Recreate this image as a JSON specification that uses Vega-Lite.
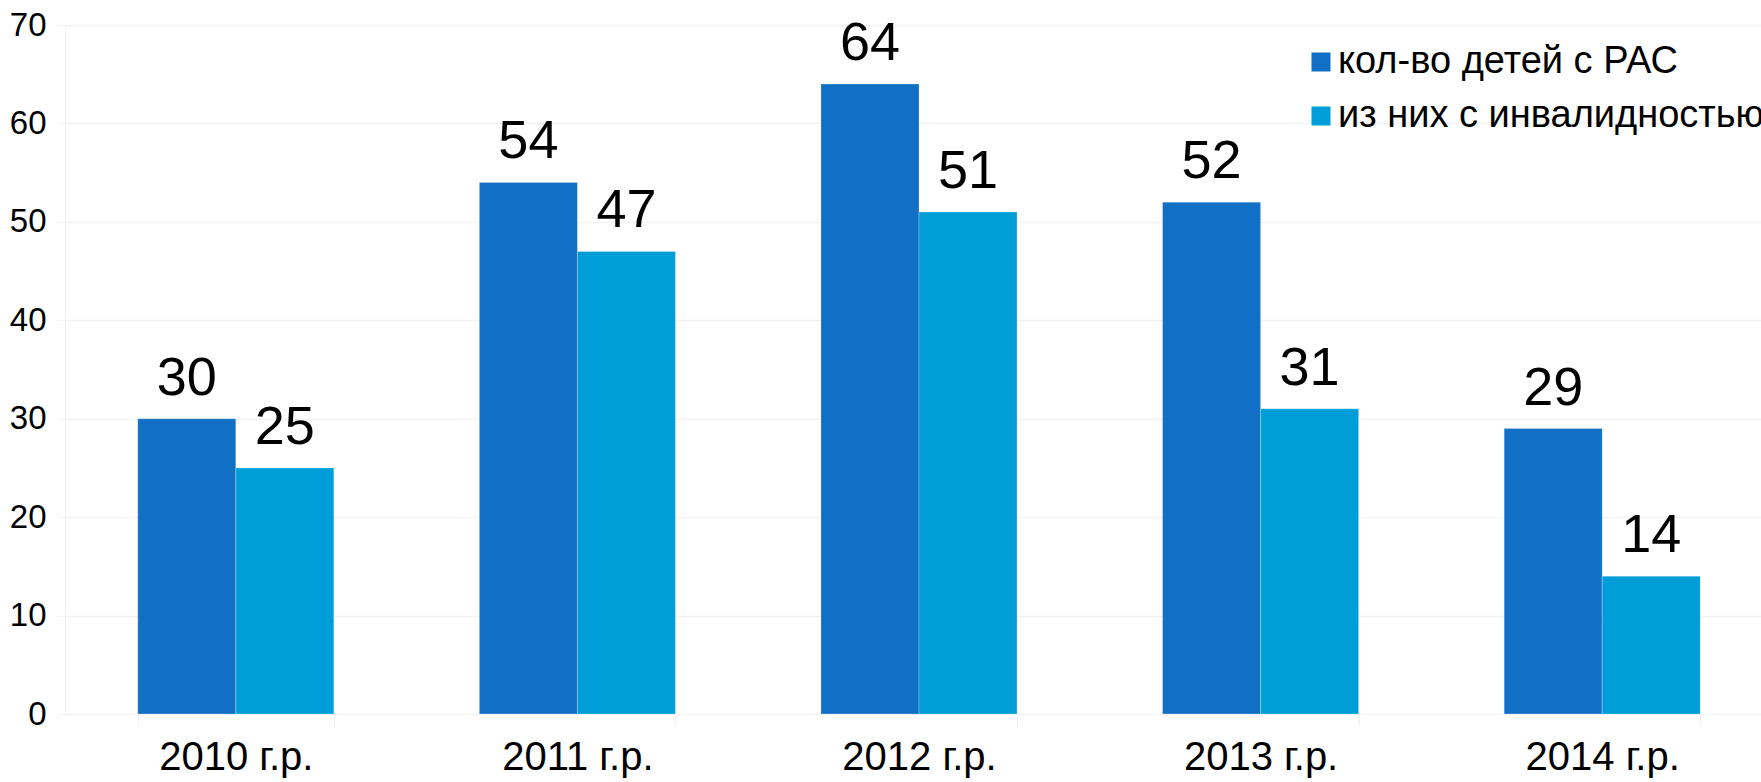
{
  "$schema": "https://vega.github.io/schema/vega-lite/v6.json",
  "autosize": {"type": "none"},
  "padding": {"left": 65, "top": 25, "right": 0, "bottom": 68},
  "width": 1708,
  "height": 689,
  "background": "white",
  "config": {
    "view": {"stroke": null},
    "font": "Liberation Sans"
  },
  "data": {
    "values": [
      {"year": "2010 г.р.", "series": "кол-во детей с РАС", "value": 30},
      {"year": "2010 г.р.", "series": "из них с инвалидностью", "value": 25},
      {"year": "2011 г.р.", "series": "кол-во детей с РАС", "value": 54},
      {"year": "2011 г.р.", "series": "из них с инвалидностью", "value": 47},
      {"year": "2012 г.р.", "series": "кол-во детей с РАС", "value": 64},
      {"year": "2012 г.р.", "series": "из них с инвалидностью", "value": 51},
      {"year": "2013 г.р.", "series": "кол-во детей с РАС", "value": 52},
      {"year": "2013 г.р.", "series": "из них с инвалидностью", "value": 31},
      {"year": "2014 г.р.", "series": "кол-во детей с РАС", "value": 29},
      {"year": "2014 г.р.", "series": "из них с инвалидностью", "value": 14}
    ]
  },
  "encoding": {
    "x": {
      "field": "year",
      "type": "nominal",
      "sort": null,
      "scale": {"paddingInner": 0.426, "paddingOuter": 0.213},
      "axis": {
        "title": null,
        "labelAngle": 0,
        "labelFontSize": 40,
        "labelColor": "#000000",
        "labelPadding": 11,
        "tickBand": "extent",
        "tickSize": 12,
        "tickColor": "#F2F2F2",
        "domainColor": "#F2F2F2",
        "grid": false
      }
    },
    "xOffset": {
      "field": "series",
      "type": "nominal",
      "scale": {"domain": ["кол-во детей с РАС", "из них с инвалидностью"], "paddingInner": 0, "paddingOuter": 0}
    },
    "y": {
      "field": "value",
      "type": "quantitative",
      "scale": {"domain": [0, 70], "nice": false},
      "axis": {
        "title": null,
        "values": [0, 10, 20, 30, 40, 50, 60, 70],
        "labelFontSize": 33,
        "labelColor": "#000000",
        "labelPadding": 11,
        "tickSize": 8,
        "tickColor": "#F2F2F2",
        "domainColor": "#F2F2F2",
        "gridColor": "#F2F2F2",
        "gridWidth": 1.5
      }
    }
  },
  "layer": [
    {
      "mark": {"type": "bar", "stroke": "#ffffff", "strokeOpacity": 0.25, "strokeWidth": 1},
      "encoding": {
        "color": {
          "field": "series",
          "type": "nominal",
          "scale": {"domain": ["кол-во детей с РАС", "из них с инвалидностью"], "range": ["#116FC6", "#009ED8"]},
          "legend": {
            "title": null,
            "orient": "none",
            "legendX": 1237,
            "legendY": 18,
            "padding": 0,
            "symbolType": "square",
            "symbolSize": 361,
            "symbolStrokeWidth": 0,
            "labelFontSize": 38,
            "labelColor": "#000000",
            "labelOffset": -2,
            "labelLimit": 700,
            "rowPadding": 16
          }
        }
      }
    },
    {
      "mark": {"type": "text", "fontSize": 54, "baseline": "alphabetic", "dy": -24, "color": "#000000"},
      "encoding": {
        "text": {"field": "value", "type": "quantitative"}
      }
    }
  ]
}
